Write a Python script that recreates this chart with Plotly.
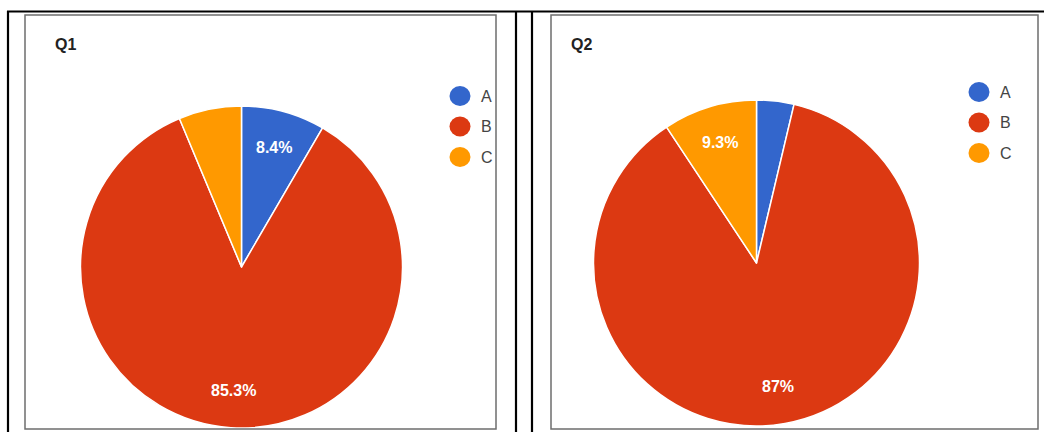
import math
import plotly.graph_objects as go

# Survey answers per question (percent of responses)
categories = ["A", "B", "C"]
q1_values = [8.4, 85.3, 6.3]
q2_values = [3.7, 87.0, 9.3]
titles = ["Q1", "Q2"]

colors = ["#3366CC", "#DC3912", "#FF9900"]

W, H = 1044, 432
FONT = "Arial, Liberation Sans, sans-serif"


def px_x(x):
    return x / W


def px_y(y):
    return 1 - y / H


def pie_domain(cx, cy, r):
    return dict(x=[px_x(cx - r), px_x(cx + r)], y=[px_y(cy + r), px_y(cy - r)])


def pct_label(share):
    # three significant digits, trailing zeros dropped (87.0 -> 87)
    s = f"{share:.3g}"
    return s + "%"


fig = go.Figure()

panels = [
    dict(values=q1_values, title=titles[0], center=(241.5, 267), r=161,
         box=(25, 15, 496, 429), title_xy=(53, 44), legend_xy=(460, 96)),
    dict(values=q2_values, title=titles[1], center=(756.5, 263), r=163,
         box=(551, 15, 1038, 429), title_xy=(569, 44), legend_xy=(979, 92)),
]

shapes = []
annotations = []

for p in panels:
    cx, cy = p["center"]
    r = p["r"]
    values = p["values"]
    fig.add_trace(go.Pie(
        labels=categories,
        values=values,
        marker=dict(colors=colors, line=dict(color="white", width=1.5)),
        sort=False,
        direction="clockwise",
        rotation=0,
        textinfo="none",
        domain=pie_domain(cx, cy, r),
        showlegend=False,
        hoverinfo="label+percent",
    ))

    # percentage labels at the middle of each slice (small slices unlabelled)
    total = sum(values)
    start = 0.0
    for v in values:
        share = 100.0 * v / total
        mid = (start + v / 2) / total * 2 * math.pi
        start += v
        if share < 7.0:
            continue
        lx = cx + 0.77 * r * math.sin(mid)
        ly = cy - 0.77 * r * math.cos(mid)
        annotations.append(dict(text="<b>" + pct_label(share) + "</b>", xref="paper", yref="paper",
                                x=px_x(lx), y=px_y(ly), xanchor="center", yanchor="middle",
                                showarrow=False, font=dict(family=FONT, size=16, color="white")))

    # panel frame
    x0, y0, x1, y1 = p["box"]
    shapes.append(dict(type="rect", xref="paper", yref="paper",
                       x0=px_x(x0), x1=px_x(x1), y0=px_y(y1), y1=px_y(y0),
                       line=dict(color="#6e6e6e", width=1.5), layer="above"))

    # title
    tx, ty = p["title_xy"]
    annotations.append(dict(text="<b>" + p["title"] + "</b>", xref="paper", yref="paper",
                            x=px_x(tx), y=px_y(ty), xanchor="left", yanchor="middle",
                            showarrow=False, font=dict(family=FONT, size=16, color="#222222")))

    # legend with round swatches
    lx, ly = p["legend_xy"]
    for i, (cat, col) in enumerate(zip(categories, colors)):
        yy = ly + i * 30.5
        shapes.append(dict(type="circle", xref="paper", yref="paper",
                           x0=px_x(lx - 10.5), x1=px_x(lx + 10.5),
                           y0=px_y(yy + 10), y1=px_y(yy - 10),
                           fillcolor=col, line=dict(width=0)))
        annotations.append(dict(text=cat, xref="paper", yref="paper",
                                x=px_x(lx + 19), y=px_y(yy), xanchor="left", yanchor="middle",
                                showarrow=False, font=dict(family=FONT, size=16, color="#444444")))

# outer table rules
for (x0, y0, x1, y1) in [(7, 11.5, W, 11.5), (8, 11, 8, H), (516, 11, 516, H), (532, 11, 532, H)]:
    shapes.append(dict(type="line", xref="paper", yref="paper",
                       x0=px_x(x0), x1=px_x(x1), y0=px_y(y0), y1=px_y(y1),
                       line=dict(color="black", width=2.2)))

fig.update_layout(
    width=W, height=H,
    margin=dict(l=0, r=0, t=0, b=0),
    paper_bgcolor="white",
    plot_bgcolor="white",
    shapes=shapes,
    annotations=annotations,
    font=dict(family=FONT),
)

fig.write_html("out.html", config={"displayModeBar": False})
